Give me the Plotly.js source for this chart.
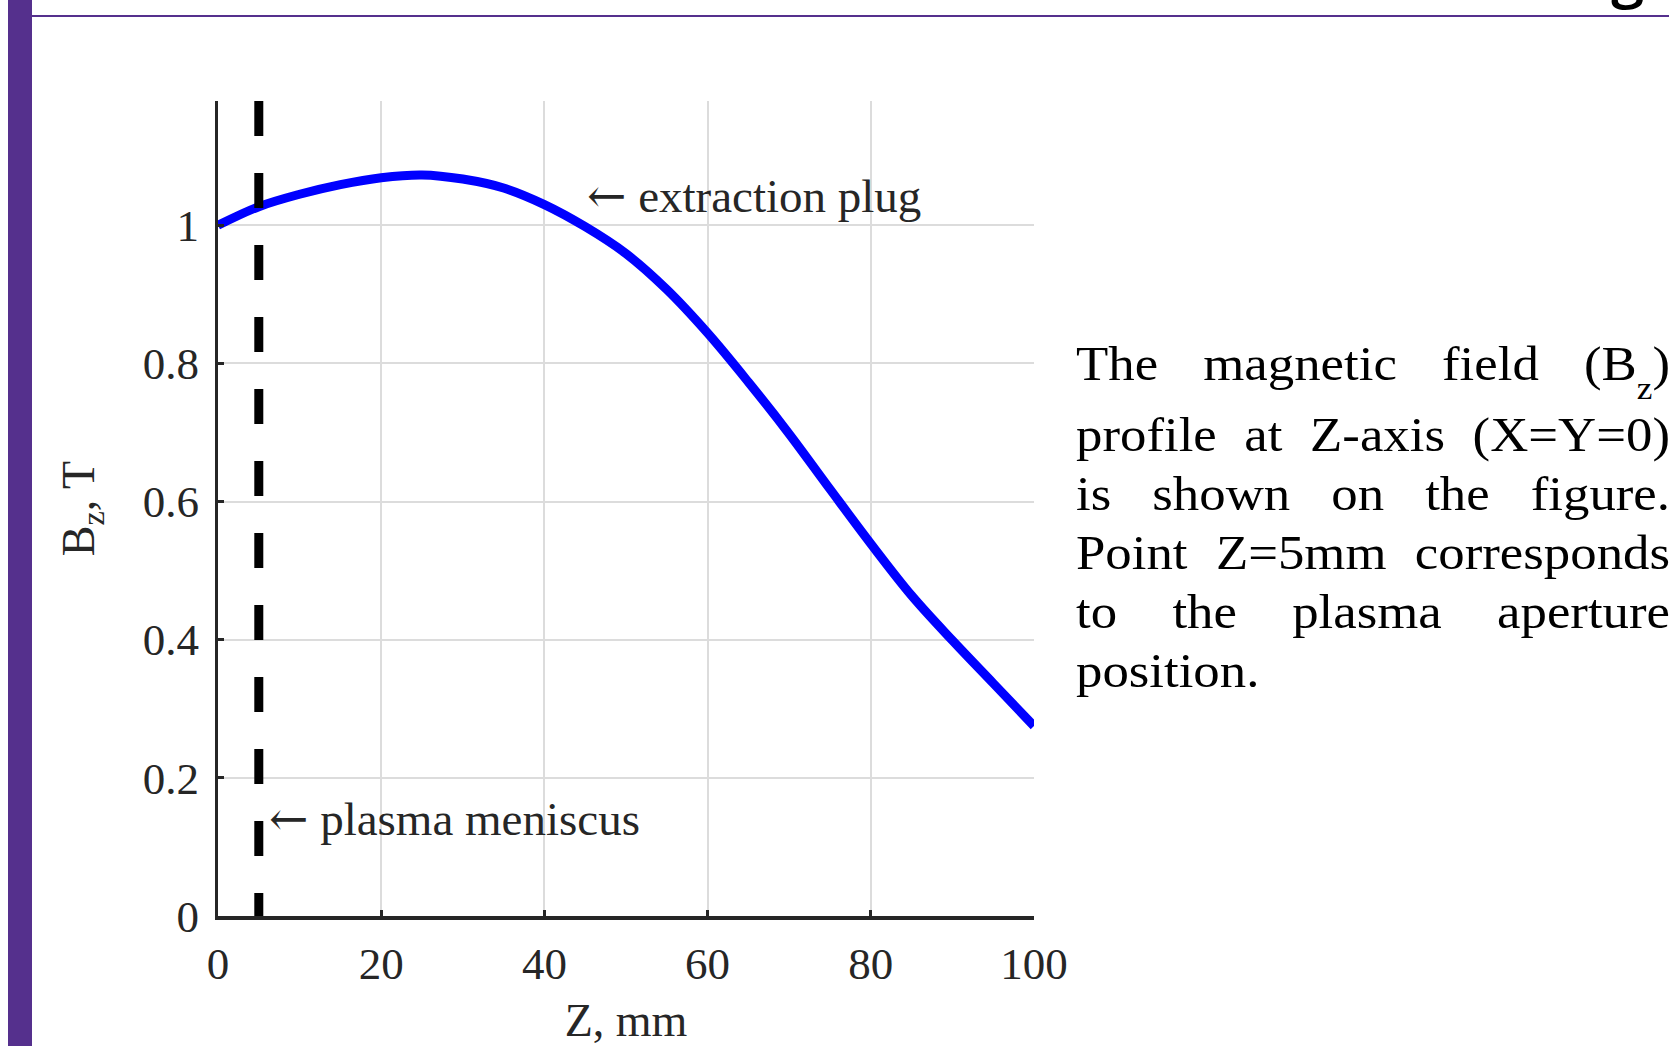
<!DOCTYPE html>
<html>
<head>
<meta charset="utf-8">
<script src="https://cdn.plot.ly/plotly-3.0.1.min.js"></script>
<style>
  html, body { margin:0; padding:0; width:1669px; height:1046px; overflow:hidden; background:#ffffff; }
  #chart { position:absolute; left:0; top:0; width:1669px; height:1046px; }
  .deco { position:absolute; z-index:5; }
  .para { position:absolute; z-index:5; left:1076px; width:540px; font-family:"Liberation Serif", serif; font-size:48px; line-height:48px; color:#000; text-align:justify; text-align-last:justify; white-space:nowrap; transform:scaleX(1.1); transform-origin:left top; }
  .para.last { text-align-last:left; }
  .para sub { font-size:32px; line-height:0; vertical-align:-0.6em; }
</style>
</head>
<body>
<div id="chart"></div>
<div class="deco" style="left:8px; top:0; width:24px; height:1046px; background:#55308d;"></div>
<div class="deco" style="left:32px; top:15px; width:1637px; height:2px; background:#55308d;"></div>
<div class="deco" style="left:1611px; top:-57px; font-family:'Open Sans', sans-serif; font-weight:600; font-size:60px; line-height:60px; color:#000;">g</div>
<div id="paragraph"></div>
<script>
// ---- data ----
const zValues  = [0, 5, 10, 15, 20, 25, 30, 35, 40, 45, 50, 55, 60, 65, 70, 75, 80, 85, 90, 95, 100];
const bzValues = [1.000, 1.027, 1.045, 1.059, 1.069, 1.073, 1.067, 1.054, 1.030, 0.998, 0.959, 0.907, 0.844, 0.773, 0.698, 0.618, 0.539, 0.464, 0.399, 0.337, 0.275];
const meniscusZ = [5, 5];
const meniscusBz = [1.18, 0];
const xTickVals = [0, 20, 40, 60, 80, 100];
const xTickText = ['0', '20', '40', '60', '80', '100'];
const yTickVals = [0, 0.2, 0.4, 0.6, 0.8, 1];
const yTickText = ['0', '0.2', '0.4', '0.6', '0.8', '1'];
const labelPlug = 'extraction plug';
const labelMeniscus = 'plasma meniscus';
const plugPos = [45.0, 1.043];
const meniscusPos = [6.0, 0.141];
const paragraphLines = [
  'The magnetic field (B<sub>z</sub>)',
  'profile at Z-axis (X=Y=0)',
  'is shown on the figure.',
  'Point Z=5mm corresponds',
  'to the plasma aperture',
  'position.'
];
const paragraphBaselines = [380, 451, 510, 569, 628, 687];

// ---- paragraph ----
const para = document.getElementById('paragraph');
paragraphLines.forEach((t, i) => {
  const d = document.createElement('div');
  d.className = 'para' + (i === paragraphLines.length - 1 ? ' last' : '');
  d.style.top = (paragraphBaselines[i] - 40) + 'px';
  d.innerHTML = t;
  para.appendChild(d);
});

// ---- chart ----
const serif = 'Liberation Serif, serif';
const arrow = '<span style="font-family:DejaVu Serif">\u2190</span> ';
const tickFont = { family: serif, size: 45, color: '#262626' };
const annFont = { family: serif, size: 47, color: '#262626' };
const traces = [
  {
    x: zValues, y: bzValues, type: 'scatter', mode: 'lines',
    line: { color: '#0000ff', width: 9, shape: 'spline', smoothing: 1 },
    hoverinfo: 'skip', showlegend: false
  },
  {
    x: meniscusZ, y: meniscusBz, type: 'scatter', mode: 'lines',
    line: { color: '#000000', width: 9, dash: '35px,37px' },
    hoverinfo: 'skip', showlegend: false
  }
];
const layout = {
  width: 1669, height: 1046,
  margin: { l: 218, r: 635, t: 101, b: 130, pad: 0 },
  paper_bgcolor: 'rgba(0,0,0,0)', plot_bgcolor: 'rgba(0,0,0,0)',
  showlegend: false,
  xaxis: {
    range: [0, 100], tickvals: xTickVals, ticktext: xTickText,
    showgrid: true, gridcolor: '#dcdcdc', gridwidth: 2,
    zeroline: false, showline: true, linecolor: '#262626', linewidth: 4,
    ticks: 'inside', ticklen: 6, tickwidth: 3, tickcolor: '#262626',
    tickfont: tickFont, ticklabelstandoff: 5,
    title: { text: 'Z, mm', font: { family: serif, size: 46, color: '#262626' }, standoff: 39 },
    fixedrange: true
  },
  yaxis: {
    range: [0, 1.18], tickvals: yTickVals, ticktext: yTickText,
    showgrid: true, gridcolor: '#dcdcdc', gridwidth: 2,
    zeroline: false, showline: true, linecolor: '#262626', linewidth: 3,
    ticks: 'inside', ticklen: 6, tickwidth: 3, tickcolor: '#262626',
    tickfont: tickFont, ticklabelstandoff: 7,
    title: { text: 'B<sub>z</sub>, T', font: { family: serif, size: 46, color: '#262626' }, standoff: 34 },
    fixedrange: true
  },
  annotations: [
    { x: plugPos[0], y: plugPos[1], xref: 'x', yref: 'y', text: arrow + labelPlug, showarrow: false,
      xanchor: 'left', yanchor: 'middle', font: annFont },
    { x: meniscusPos[0], y: meniscusPos[1], xref: 'x', yref: 'y', text: arrow + labelMeniscus, showarrow: false,
      xanchor: 'left', yanchor: 'middle', font: annFont }
  ]
};
Plotly.newPlot('chart', traces, layout, { staticPlot: true, displayModeBar: false });
</script>
</body>
</html>
